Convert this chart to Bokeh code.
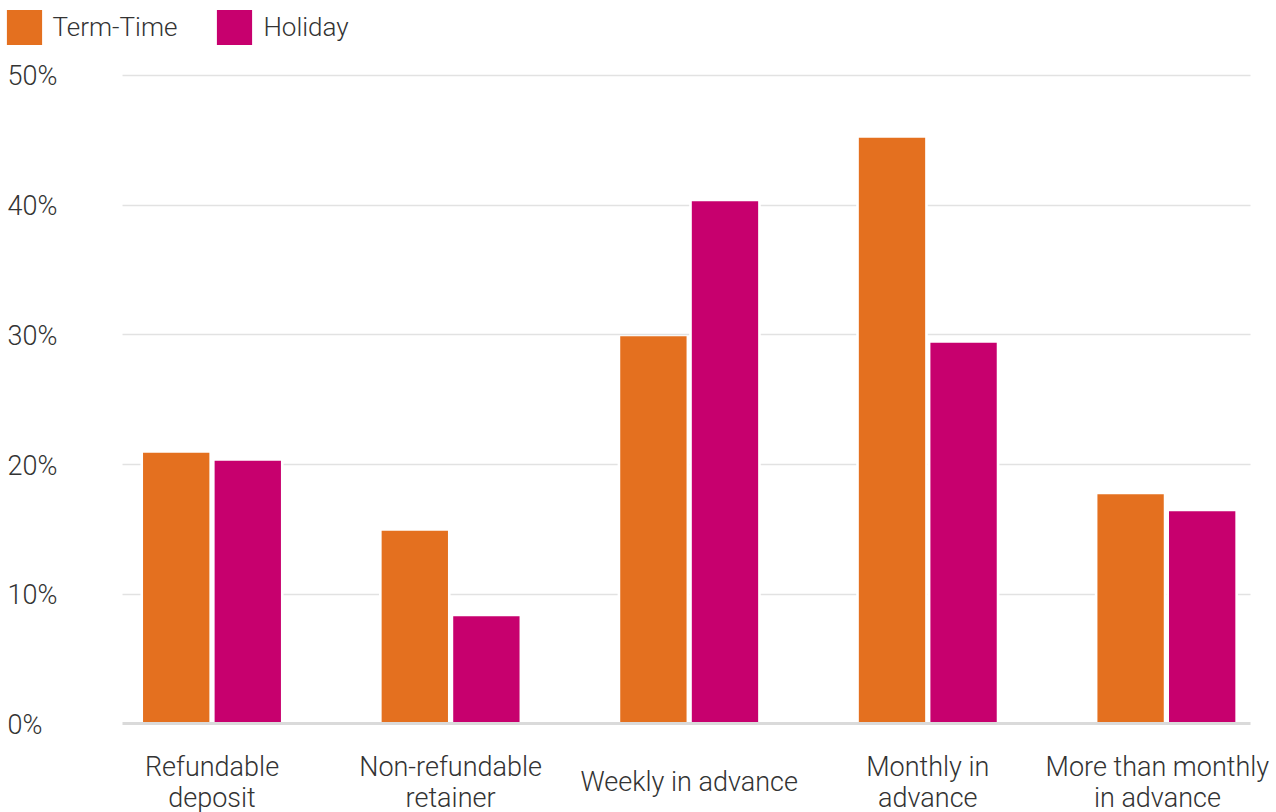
from bokeh.plotting import figure
from bokeh.models import (ColumnDataSource, Range1d, FixedTicker, Grid, LabelSet,
                          Legend, LegendItem)
from bokeh.core.properties import value
from bokeh.embed import file_html
from bokeh.resources import INLINE

# ---- data -------------------------------------------------------------
categories = ["Refundable deposit", "Non-refundable retainer", "Weekly in advance",
              "Monthly in advance", "More than monthly in advance"]
category_labels = ["Refundable\ndeposit", "Non-refundable\nretainer", "Weekly in advance",
                   "Monthly in\nadvance", "More than monthly\nin advance"]
term_time = [20.9, 14.9, 29.9, 45.2, 17.7]
holiday = [20.3, 8.3, 40.3, 29.4, 16.4]
y_ticks = [0, 10, 20, 30, 40, 50]
y_tick_labels = ["0%", "10%", "20%", "30%", "40%", "50%"]

# ---- styling / layout -------------------------------------------------
ORANGE = "#E4701F"
MAGENTA = "#C7006E"
TEXT = "#333333"
FONT = "Roboto Light"
FONT_SIZE = "27px"
LEGEND_FONT_SIZE = "26px"
BAR_W = 0.278          # coloured bar width (category units)
GAP_W = 0.30           # white backing width, leaves a thin gap round bars
OFFSET = 0.15          # dodge of each series from the category centre
W, H = 1276, 812
X_VIEW = (-0.8864, 4.4615)   # full canvas in category units
Y_VIEW = (-6.832, 55.783)    # full canvas in percent
GRID_SPAN = (-0.3755, 4.352) # horizontal extent of the gridlines
LABEL_MID = 30.5             # px above the bottom edge: centre of category label block
LINE_STEP = 31               # px between label lines
EDGE_NUDGE = -9              # px shift of the last label so it stays on the page
SWATCH = 44                  # legend glyph box (swatch is drawn at 80% of it)

idx = list(range(len(categories)))
src = ColumnDataSource(dict(
    cat=categories,
    x=idx,
    x_term=[i - OFFSET for i in idx],
    x_hol=[i + OFFSET for i in idx],
    term=term_time,
    hol=holiday,
))

# one row per text line, each line centred under its category
lx, ly, lt, ldx = [], [], [], []
for i, lab in enumerate(category_labels):
    lines = lab.split("\n")
    n = len(lines)
    for k, line in enumerate(lines):
        lx.append(i)
        ly.append(LABEL_MID + ((n - 1) / 2 - k) * LINE_STEP)
        lt.append(line)
        ldx.append(EDGE_NUDGE if i == len(category_labels) - 1 else 0)
lsrc = ColumnDataSource(dict(x=lx, y=ly, text=lt, dx=ldx))

p = figure(width=W, height=H, output_backend="svg", toolbar_location=None,
           x_range=Range1d(*X_VIEW), y_range=Range1d(*Y_VIEW), min_border=0)
p.outline_line_color = None
p.background_fill_color = "white"
p.border_fill_color = "white"
p.xaxis.visible = False
p.yaxis.visible = False
p.xgrid.visible = False
p.ygrid.ticker = FixedTicker(ticks=y_ticks[1:])
p.ygrid.cross_bounds = GRID_SPAN
p.ygrid.grid_line_color = "#e2e2e2"
p.ygrid.grid_line_width = 1.4

# white backing so gridlines break around each bar
p.vbar(x="x_term", top="term", bottom=0, width=GAP_W, source=src,
       fill_color="white", line_color=None)
p.vbar(x="x_hol", top="hol", bottom=0, width=GAP_W, source=src,
       fill_color="white", line_color=None)
r_term = p.vbar(x="x_term", top="term", bottom=0, width=BAR_W, source=src,
                fill_color=ORANGE, line_color=None)
r_hol = p.vbar(x="x_hol", top="hol", bottom=0, width=BAR_W, source=src,
               fill_color=MAGENTA, line_color=None)

# baseline at 0%
p.add_layout(Grid(dimension=1, ticker=FixedTicker(ticks=y_ticks[:1]),
                  cross_bounds=GRID_SPAN, grid_line_color="#dadada",
                  grid_line_width=3, level="annotation"))

# y tick labels, left aligned at the page edge
ysrc = ColumnDataSource(dict(y=y_ticks, text=y_tick_labels))
p.add_layout(LabelSet(x=7, x_units="screen", y="y", text="text", source=ysrc,
                      y_offset=-1, text_align="left", text_baseline="middle",
                      text_font=value(FONT), text_font_size=value(FONT_SIZE),
                      text_color=TEXT))

# category labels under the baseline
p.add_layout(LabelSet(x="x", y="y", y_units="screen", text="text", source=lsrc,
                      x_offset="dx", text_align="center", text_baseline="middle",
                      text_font=value(FONT), text_font_size=value(FONT_SIZE),
                      text_color=TEXT))

legend = Legend(items=[LegendItem(label="Term-Time", renderers=[r_term]),
                       LegendItem(label="Holiday", renderers=[r_hol])],
                orientation="horizontal", location=(1.6, H - 4.6 - SWATCH),
                glyph_width=SWATCH, glyph_height=SWATCH, label_standoff=7,
                spacing=35, padding=0, margin=0, border_line_color=None,
                background_fill_alpha=0,
                label_text_font=FONT, label_text_font_size=LEGEND_FONT_SIZE,
                label_text_color=TEXT, label_text_baseline="middle")
p.add_layout(legend)

open("out.html", "w").write(file_html(p, INLINE))
